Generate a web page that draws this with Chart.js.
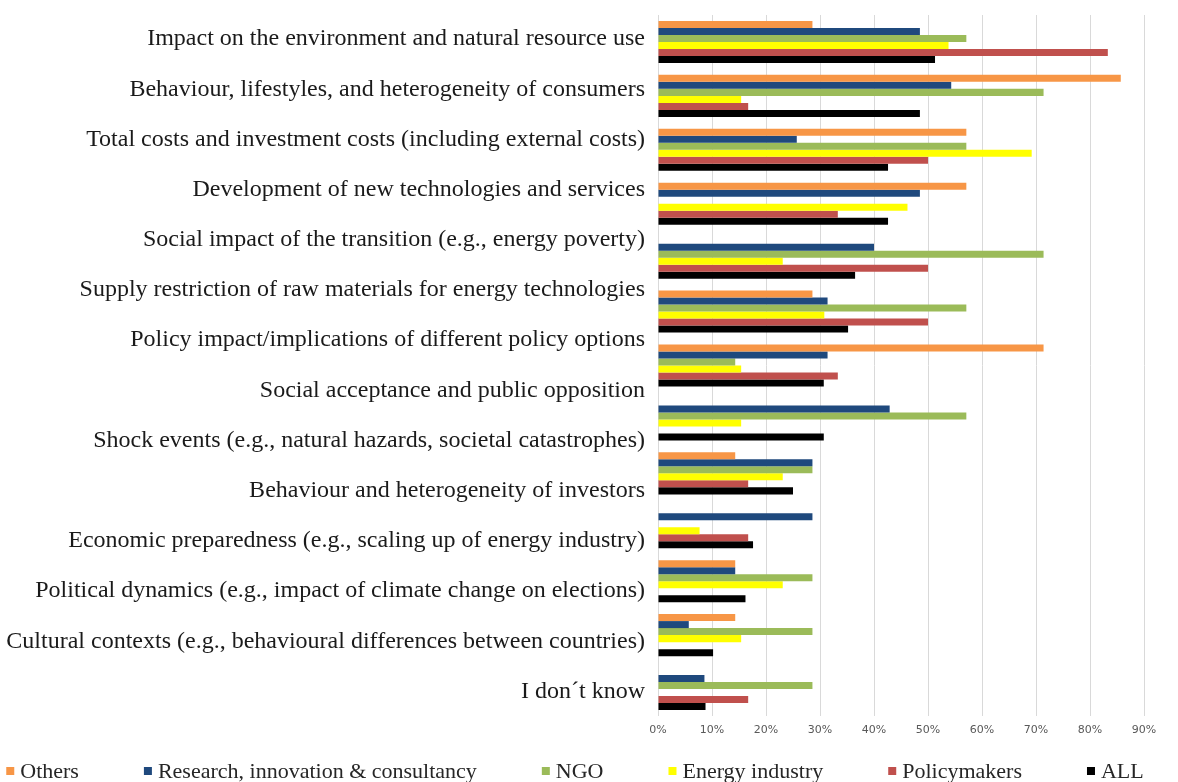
<!DOCTYPE html>
<html>
<head>
<meta charset="utf-8">
<script src="https://cdn.jsdelivr.net/npm/chart.js@4.4.1/dist/chart.umd.min.js"></script>
<style>
  html, body { margin: 0; padding: 0; background: #ffffff; }
  #wrap { width: 1178px; height: 782px; position: relative; }
</style>
</head>
<body>
<div id="wrap"><canvas id="chart"></canvas></div>
<script>
// Row labels shown down the left side
const tickLabels = [
  'Impact on the environment and natural resource use',
  'Behaviour, lifestyles, and heterogeneity of consumers',
  'Total costs and investment costs (including external costs)',
  'Development of new technologies and services',
  'Social impact of the transition (e.g., energy poverty)',
  'Supply restriction of raw materials for energy technologies',
  'Policy impact/implications of different policy options',
  'Social acceptance and public opposition',
  'Shock events (e.g., natural hazards, societal catastrophes)',
  'Behaviour and heterogeneity of investors',
  'Economic preparedness (e.g., scaling up of energy industry)',
  'Political dynamics (e.g., impact of climate change on elections)',
  'Cultural contexts (e.g., behavioural differences between countries)',
  'I don\u00b4t know'
];

// Bar groups, top to bottom
const groups = [
  'Impact on the environment and natural resource use',
  'Behaviour, lifestyles, and heterogeneity of consumers',
  'Total costs and investment costs (including external costs)',
  'Development of new technologies and services',
  'Social impact of the transition (e.g., energy poverty)',
  'Supply restriction of raw materials for energy technologies',
  'Policy impact/implications of different policy options',
  'Social acceptance and public opposition',
  'Behaviour and heterogeneity of investors',
  'Economic preparedness (e.g., scaling up of energy industry)',
  'Political dynamics (e.g., impact of climate change on elections)',
  'Cultural contexts (e.g., behavioural differences between countries)',
  'I don\u00b4t know'
];

// Share of respondents (%) per stakeholder group
const others       = [28.6, 85.7, 57.1, 57.1, 0,    28.6, 71.4, 0,    14.3, 0,    14.3, 14.3, 0];
const research     = [48.5, 54.3, 25.7, 48.5, 40.0, 31.4, 31.4, 42.9, 28.6, 28.6, 14.3, 5.7,  8.6];
const ngo          = [57.1, 71.4, 57.1, 0,    71.4, 57.1, 14.3, 57.1, 28.6, 0,    28.6, 28.6, 28.6];
const energy       = [53.8, 15.4, 69.2, 46.2, 23.1, 30.8, 15.4, 15.4, 23.1, 7.7,  23.1, 15.4, 0];
const policymakers = [83.3, 16.7, 50.0, 33.3, 50.0, 50.0, 33.3, 0,    16.7, 16.7, 0,    0,    16.7];
const all          = [51.3, 48.5, 42.6, 42.6, 36.5, 35.2, 30.7, 30.7, 25.0, 17.6, 16.2, 10.2, 8.8];

const xTicks = [0, 10, 20, 30, 40, 50, 60, 70, 80, 90];

const seriesNames  = ['Others', 'Research, innovation & consultancy', 'NGO', 'Energy industry', 'Policymakers', 'ALL'];
const seriesColors = ['#F79646', '#1F497D', '#9BBB59', '#FFFF00', '#C0504D', '#000000'];
const seriesValues = [others, research, ngo, energy, policymakers, all];

// Value range of the label column (label i sits at value i)
const labelMin = -0.479;
const labelMax = 13.49;

// Legend row along the bottom edge
const bottomLegend = {
  id: 'bottomLegend',
  afterDraw(chart) {
    const ctx = chart.ctx;
    const box = 8, textGap = 6, itemGap = 65, cy = 771, centerX = 575;
    ctx.save();
    ctx.font = '22px "Liberation Serif", serif';
    ctx.textBaseline = 'middle';
    const items = chart.data.datasets.map(ds => ({
      label: ds.label, color: ds.backgroundColor, w: ctx.measureText(ds.label).width
    }));
    const total = items.reduce((s, it) => s + box + textGap + it.w, 0) + itemGap * (items.length - 1);
    let x = centerX - total / 2;
    items.forEach(it => {
      ctx.fillStyle = it.color;
      ctx.fillRect(x, cy - box / 2, box, box);
      ctx.fillStyle = '#262626';
      ctx.fillText(it.label, x + box + textGap, cy + 1);
      x += box + textGap + it.w + itemGap;
    });
    ctx.restore();
  }
};

new Chart(document.getElementById('chart'), {
  type: 'bar',
  data: {
    labels: groups,
    datasets: seriesNames.map((name, i) => ({
      label: name,
      data: seriesValues[i],
      backgroundColor: seriesColors[i],
      borderWidth: 0,
      categoryPercentage: 0.78,
      barPercentage: 1.0
    }))
  },
  options: {
    indexAxis: 'y',
    responsive: true,
    maintainAspectRatio: false,
    animation: false,
    layout: { padding: { top: 15, right: 34, bottom: 40, left: 0 } },
    plugins: { legend: { display: false }, tooltip: { enabled: false } },
    scales: {
      x: {
        type: 'linear',
        min: 0,
        max: 90,
        bounds: 'data',
        afterBuildTicks: s => { s.ticks = xTicks.map(v => ({ value: v })); },
        ticks: {
          callback: v => v + '%',
          color: '#595959',
          font: { family: '"DejaVu Sans", sans-serif', size: 11 },
          padding: 8
        },
        grid: { color: '#d9d9d9', lineWidth: 1, drawTicks: false },
        border: { display: false },
        afterFit: s => { s.height = 26; s.paddingLeft = 0; s.paddingRight = 0; }
      },
      y: {
        type: 'category',
        display: false,
        offset: true
      },
      yl: {
        type: 'linear',
        position: 'left',
        reverse: true,
        offset: false,
        bounds: 'data',
        min: labelMin,
        max: labelMax,
        afterBuildTicks: s => {
          s.min = labelMin;
          s.max = labelMax;
          s.ticks = tickLabels.map((_, i) => ({ value: i }));
        },
        ticks: {
          autoSkip: false,
          callback: v => tickLabels[v],
          color: '#1a1a1a',
          font: { family: '"Liberation Serif", serif', size: 24 },
          padding: 13
        },
        grid: { display: false, drawTicks: false, offset: false },
        border: { display: false },
        afterFit: s => { s.width = 658; s.paddingTop = 0; s.paddingBottom = 0; }
      }
    }
  },
  plugins: [bottomLegend]
});
</script>
</body>
</html>
